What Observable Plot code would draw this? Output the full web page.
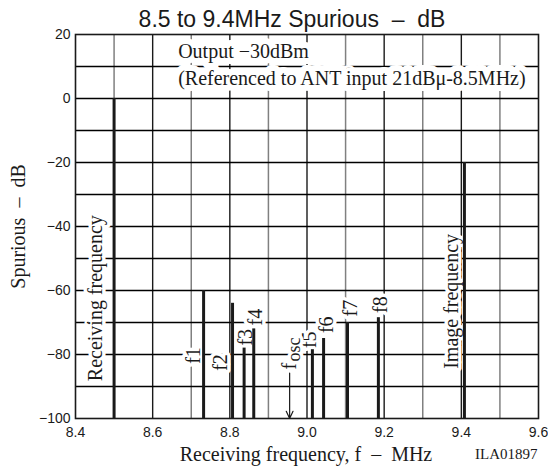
<!DOCTYPE html>
<html><head><meta charset="utf-8">
<script src="https://cdn.jsdelivr.net/npm/d3@7"></script>
<script src="https://cdn.jsdelivr.net/npm/@observablehq/plot@0.6"></script>
<style>body{margin:0;background:#fff} svg{display:block}</style>
</head><body><div id="chart"></div>
<script>
const title = "8.5 to 9.4MHz Spurious  –  dB";
const xLabel = "Receiving frequency, f  –  MHz";
const yLabel = "Spurious  –  dB";
const code = "ILA01897";
const noteLines = ["Output −30dBm", "(Referenced to ANT input 21dBμ-8.5MHz)"];
const noteX = [8.666, 8.666];
const noteY = [14.7, 6.2];

const names = ["Receiving frequency","f1","f2","f3","f4","f5","f6","f7","f8","Image frequency"];
const freqs = [8.5, 8.732, 8.807, 8.837, 8.862, 9.014, 9.043, 9.105, 9.185, 9.408];
const levels = [0, -60, -64, -78, -72, -78.5, -75, -70, -68.5, -20];
const labelX = [8.453, 8.705, 8.775, 8.841, 8.868, 9.006, 9.052, 9.112, 9.19, 9.376];
const labelY = [-62.4, -80.3, -82.5, -74.6, -68.3, -75.4, -70.7, -65.5, -64.4, -63.4];
const oscName = ["f", "osc"];
const oscFreq = 8.955;
const oscLabelY = [-84.7, -82.2];
const oscArrowY = [-85.8, -100];

const xDomain = [8.4, 9.6];
const yDomain = [-100, 20];
const xTicks = [8.4, 8.6, 8.8, 9.0, 9.2, 9.4, 9.6];
const xGridMajor = [8.6, 8.8, 9.0, 9.2, 9.4];
const xGridMinor = [8.5, 8.7, 8.9, 9.1, 9.3, 9.5];
const yTicks = [20, 0, -20, -40, -60, -80, -100];
const yGrid = [10, 0, -10, -20, -30, -40, -50, -60, -70, -80, -90];

const bars = names.map((n, i) => ({name: n, f: freqs[i], v: levels[i], lx: labelX[i], ly: labelY[i]}));
const notes = noteLines.map((t, i) => ({t, x: noteX[i], y: noteY[i]}));
const serif = "Liberation Serif, Times New Roman, serif";
const sans = "Liberation Sans, Arial, sans-serif";
const ink = "#1a1a1a";

const plot = Plot.plot({
  width: 548, height: 466,
  marginLeft: 75, marginRight: 10, marginTop: 34, marginBottom: 48,
  style: {fontFamily: sans, fontSize: "14px", background: "white", color: ink},
  x: {domain: xDomain, ticks: xTicks, tickFormat: d3.format(".1f"), tickSize: 0, tickPadding: 9, label: null},
  y: {domain: yDomain, ticks: yTicks, tickSize: 0, tickPadding: 5, label: null},
  marks: [
    Plot.ruleX(xGridMinor, {stroke: "#808080", strokeWidth: 1.5}),
    Plot.ruleX(xGridMajor, {stroke: ink, strokeWidth: 1.4}),
    Plot.ruleY(yGrid, {stroke: "#000", strokeWidth: 1.4, strokeOpacity: 1, shapeRendering: "geometricPrecision"}),
    Plot.text(notes, {x: "x", y: "y", text: "t", textAnchor: "start", lineAnchor: "middle", fontFamily: serif, fontSize: 20,
      fill: ink, stroke: "white", strokeWidth: 12, paintOrder: "stroke"}),
    Plot.text(bars, {x: "lx", y: "ly", text: "name", rotate: -90, textAnchor: "middle", lineAnchor: "middle", fontFamily: serif, fontSize: 20,
      fill: ink, stroke: "white", strokeWidth: 7, paintOrder: "stroke"}),
    Plot.text([oscName[0]], {x: () => oscFreq, y: () => oscLabelY[0], text: d => d, rotate: -90, textAnchor: "start", lineAnchor: "middle",
      fontFamily: serif, fontSize: 20, fill: ink, stroke: "white", strokeWidth: 7, paintOrder: "stroke"}),
    Plot.text([oscName[1]], {x: () => oscFreq, y: () => oscLabelY[1], text: d => d, rotate: -90, textAnchor: "start", lineAnchor: "middle", dx: 5,
      fontFamily: serif, fontSize: 18, fill: ink, stroke: "white", strokeWidth: 7, paintOrder: "stroke"}),
    Plot.arrow([oscFreq], {x1: d => d, x2: d => d, y1: () => oscArrowY[0], y2: () => oscArrowY[1],
      stroke: ink, strokeWidth: 1.2, headLength: 10, headAngle: 50}),
    Plot.ruleX(bars, {x: "f", y1: () => yDomain[0], y2: "v", stroke: ink, strokeWidth: 3}),
    Plot.frame({stroke: ink, strokeWidth: 1.6}),
    Plot.text([title], {text: d => d, frameAnchor: "top", textAnchor: "middle", lineAnchor: "middle", dy: -15, dx: -15, fontFamily: sans, fontSize: 23, fill: ink}),
    Plot.text([yLabel], {text: d => d, frameAnchor: "left", textAnchor: "middle", lineAnchor: "middle", dx: -57, rotate: -90, fontFamily: serif, fontSize: 20, fill: ink}),
    Plot.text([xLabel], {text: d => d, frameAnchor: "bottom", textAnchor: "middle", lineAnchor: "middle", dy: 36, dx: -1, fontFamily: serif, fontSize: 20, fill: ink}),
    Plot.text([code], {text: d => d, frameAnchor: "bottom-right", textAnchor: "end", lineAnchor: "middle", dy: 36, dx: -1, fontFamily: serif, fontSize: 15, fill: ink})
  ]
});
document.getElementById("chart").appendChild(plot);
</script></body></html>
